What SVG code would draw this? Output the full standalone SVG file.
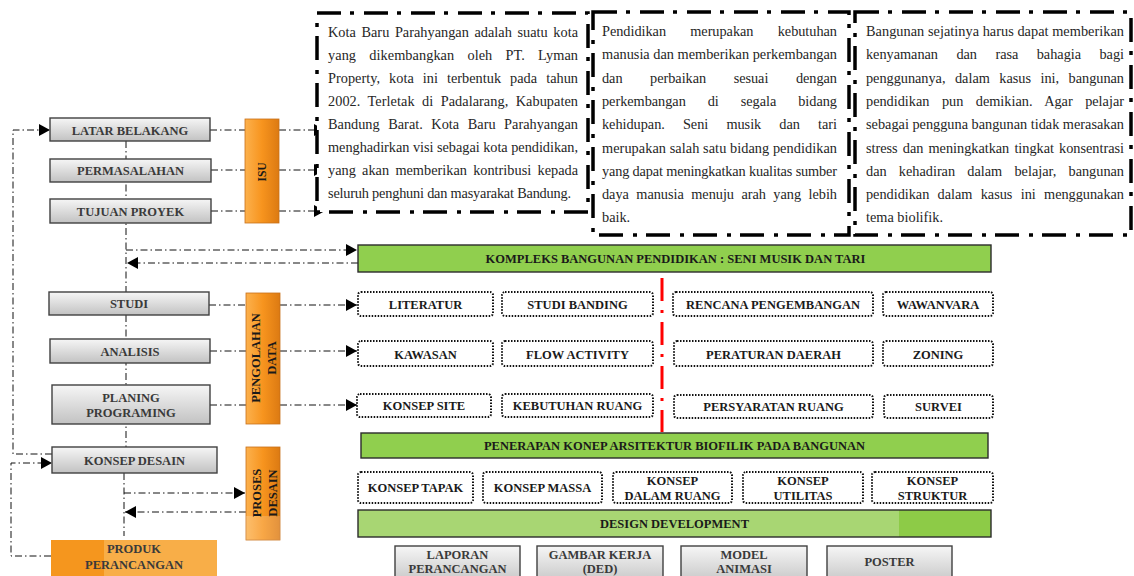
<svg xmlns="http://www.w3.org/2000/svg" width="1134" height="576" viewBox="0 0 1134 576">
<defs>
<style>
.lbl{font-family:"Liberation Serif","Times New Roman",serif;font-weight:bold;font-size:12.5px;fill:#1a1a1a;text-anchor:middle}
.lblg{font-family:"Liberation Serif","Times New Roman",serif;font-weight:bold;font-size:12.5px;fill:#3a3a3a;text-anchor:middle}
.para{font-family:"Liberation Serif","Times New Roman",serif;font-size:14.3px;fill:#262626}
.conn{fill:none;stroke:#111;stroke-width:1;stroke-dasharray:7 3 1.5 3}
.dot{fill:#fff;stroke:#111;stroke-width:2;stroke-dasharray:1.5 1.5}
.frame{fill:#fff;stroke:#000;stroke-width:3.5;stroke-dasharray:24 9 4 10}
.gray{fill:url(#gGray);stroke:#404040;stroke-width:1.4}
.orange{fill:url(#gOrange);stroke:#c8701a;stroke-width:0.8}
.green{fill:#90cf4e;stroke:#2b2b2b;stroke-width:1.4}
</style>
<linearGradient id="gGray" x1="0" y1="0" x2="0" y2="1"><stop offset="0" stop-color="#f6f6f6"/><stop offset="1" stop-color="#c2c2c2"/></linearGradient>
<linearGradient id="gOrange" x1="0" y1="0" x2="1" y2="0"><stop offset="0" stop-color="#fcb14d"/><stop offset="0.5" stop-color="#f7941e"/><stop offset="1" stop-color="#dc7a12"/></linearGradient>
<linearGradient id="gDev" x1="0" y1="0" x2="1" y2="0"><stop offset="0" stop-color="#a8d673"/><stop offset="0.855" stop-color="#a8d673"/><stop offset="0.855" stop-color="#8dcb47"/><stop offset="1" stop-color="#8dcb47"/></linearGradient>
<linearGradient id="gProd" x1="0" y1="0" x2="1" y2="0"><stop offset="0" stop-color="#f5961e"/><stop offset="0.32" stop-color="#f5961e"/><stop offset="0.32" stop-color="#f8ae48"/><stop offset="1" stop-color="#f8ae48"/></linearGradient>
<marker id="ah" markerWidth="11" markerHeight="12" refX="11" refY="6" orient="auto" markerUnits="userSpaceOnUse"><path d="M0,0 L11,6 L0,12 z" fill="#000"/></marker>
</defs>
<rect width="1134" height="576" fill="#fff"/>

<g id="connectors">
<path class="conn" d="M52,454 H13 V130 H50" marker-end="url(#ah)"/>
<path class="conn" d="M51,556 H11 V463 H52" marker-end="url(#ah)"/>
<path class="conn" d="M126,141 V447"/>
<path class="conn" d="M124,473 V536"/>
<path class="conn" d="M126,250 H357" marker-end="url(#ah)"/>
<path class="conn" d="M358,263 H127" marker-end="url(#ah)"/>
<path class="conn" d="M210,130 H245"/>
<path class="conn" d="M279,130 H325" marker-end="url(#ah)"/>
<path class="conn" d="M211,170 H245"/>
<path class="conn" d="M279,170 H325" marker-end="url(#ah)"/>
<path class="conn" d="M211,211 H245"/>
<path class="conn" d="M279,211 H325" marker-end="url(#ah)"/>
<path class="conn" d="M209,305 H246"/>
<path class="conn" d="M280,305 H357" marker-end="url(#ah)"/>
<path class="conn" d="M210,351 H246"/>
<path class="conn" d="M280,351 H357" marker-end="url(#ah)"/>
<path class="conn" d="M210,405 H246"/>
<path class="conn" d="M280,405 H357" marker-end="url(#ah)"/>
<path class="conn" d="M124,493 H245" marker-end="url(#ah)"/>
<path class="conn" d="M246,512 H125" marker-end="url(#ah)"/>
<path d="M662,278 V432" fill="none" stroke="#ff0000" stroke-width="3" stroke-dasharray="23 9 3 9"/>
</g>

<g id="text-kota">
<rect class="frame" x="317" y="13" width="271" height="199"/>
<text class="para" x="328" y="36.5" textLength="250" lengthAdjust="spacing" style="word-spacing:2px">Kota Baru Parahyangan adalah suatu kota</text>
<text class="para" x="328" y="59.6" textLength="250" lengthAdjust="spacing" style="word-spacing:9.5px">yang dikembangkan oleh PT. Lyman</text>
<text class="para" x="328" y="82.7" textLength="250" lengthAdjust="spacing" style="word-spacing:5.4px">Property, kota ini terbentuk pada tahun</text>
<text class="para" x="328" y="105.8" textLength="250" lengthAdjust="spacing" style="word-spacing:3.8px">2002. Terletak di Padalarang, Kabupaten</text>
<text class="para" x="328" y="128.9" textLength="250" lengthAdjust="spacing" style="word-spacing:5px">Bandung Barat. Kota Baru Parahyangan</text>
<text class="para" x="328" y="152" textLength="250" lengthAdjust="spacing">menghadirkan visi sebagai kota pendidikan,</text>
<text class="para" x="328" y="175.1" textLength="250" lengthAdjust="spacing" style="word-spacing:2.7px">yang akan memberikan kontribusi kepada</text>
<text class="para" x="328" y="198.2" textLength="243" lengthAdjust="spacing">seluruh penghuni dan masyarakat Bandung.</text>
</g>

<g id="text-pendidikan">
<rect class="frame" x="593" y="12" width="256" height="223"/>
<text class="para" x="602" y="36" textLength="235" lengthAdjust="spacing" style="word-spacing:20.7px">Pendidikan merupakan kebutuhan</text>
<text class="para" x="602" y="59.3" textLength="235" lengthAdjust="spacing">manusia dan memberikan perkembangan</text>
<text class="para" x="602" y="82.6" textLength="235" lengthAdjust="spacing" style="word-spacing:24px">dan perbaikan sesuai dengan</text>
<text class="para" x="602" y="105.9" textLength="235" lengthAdjust="spacing" style="word-spacing:18.4px">perkembangan di segala bidang</text>
<text class="para" x="602" y="129.2" textLength="235" lengthAdjust="spacing" style="word-spacing:14.6px">kehidupan. Seni musik dan tari</text>
<text class="para" x="602" y="152.5" textLength="235" lengthAdjust="spacing">merupakan salah satu bidang pendidikan</text>
<text class="para" x="602" y="175.8" textLength="235" lengthAdjust="spacing">yang dapat meningkatkan kualitas sumber</text>
<text class="para" x="602" y="199.1" textLength="235" lengthAdjust="spacing" style="word-spacing:3.9px">daya manusia menuju arah yang lebih</text>
<text class="para" x="602" y="222.4">baik.</text>
</g>

<g id="text-bangunan">
<rect class="frame" x="855" y="12" width="276" height="223"/>
<text class="para" x="866" y="36" textLength="258" lengthAdjust="spacing">Bangunan sejatinya harus dapat memberikan</text>
<text class="para" x="866" y="59.3" textLength="258" lengthAdjust="spacing" style="word-spacing:14.9px">kenyamanan dan rasa bahagia bagi</text>
<text class="para" x="866" y="82.6" textLength="258" lengthAdjust="spacing" style="word-spacing:6px">penggunanya, dalam kasus ini, bangunan</text>
<text class="para" x="866" y="105.9" textLength="258" lengthAdjust="spacing" style="word-spacing:8.9px">pendidikan pun demikian. Agar pelajar</text>
<text class="para" x="866" y="129.2" textLength="258" lengthAdjust="spacing">sebagai pengguna bangunan tidak merasakan</text>
<text class="para" x="866" y="152.5" textLength="258" lengthAdjust="spacing" style="word-spacing:1.6px">stress dan meningkatkan tingkat konsentrasi</text>
<text class="para" x="866" y="175.8" textLength="258" lengthAdjust="spacing" style="word-spacing:8.7px">dan kehadiran dalam belajar, bangunan</text>
<text class="para" x="866" y="199.1" textLength="258" lengthAdjust="spacing" style="word-spacing:4.8px">pendidikan dalam kasus ini menggunakan</text>
<text class="para" x="866" y="222.4">tema biolifik.</text>
</g>

<g id="latar-belakang"><rect class="gray" x="50" y="118" width="160" height="23"/><text class="lblg" x="130" y="134.5">LATAR BELAKANG</text></g>
<g id="permasalahan"><rect class="gray" x="50" y="159" width="161" height="23"/><text class="lblg" x="130.5" y="175">PERMASALAHAN</text></g>
<g id="tujuan-proyek"><rect class="gray" x="50" y="199" width="161" height="24"/><text class="lblg" x="130.5" y="215.5">TUJUAN PROYEK</text></g>
<g id="studi"><rect class="gray" x="49" y="292" width="160" height="23"/><text class="lblg" x="129" y="308">STUDI</text></g>
<g id="analisis"><rect class="gray" x="50" y="339" width="160" height="24"/><text class="lblg" x="130" y="355.5">ANALISIS</text></g>
<g id="planing-programing"><rect class="gray" x="52" y="385" width="158" height="39"/><text class="lblg" x="131" y="401.5">PLANING</text><text class="lblg" x="131" y="417">PROGRAMING</text></g>
<g id="konsep-desain"><rect class="gray" x="52" y="447" width="165" height="26"/><text class="lblg" x="134.5" y="465">KONSEP DESAIN</text></g>
<g id="produk-perancangan"><rect x="51" y="540" width="166" height="40" fill="url(#gProd)"/><text class="lblg" x="134" y="552.5">PRODUK</text><text class="lblg" x="134" y="568.5">PERANCANGAN</text></g>

<g id="isu"><rect class="orange" x="245" y="119" width="34" height="104"/><text class="lbl" transform="translate(262,172) rotate(-90)" x="0" y="4.3" style="font-size:11.5px">ISU</text></g>
<g id="pengolahan-data"><rect class="orange" x="246" y="293" width="34" height="131"/><g transform="translate(264,358) rotate(-90)"><text class="lbl" x="0" y="-3.7">PENGOLAHAN</text><text class="lbl" x="0" y="12.3">DATA</text></g></g>
<g id="proses-desain"><rect class="orange" x="246" y="447" width="34" height="93"/><rect x="246" y="516" width="34" height="24" fill="#fff" opacity="0.18"/><g transform="translate(264,493) rotate(-90)"><text class="lbl" x="0" y="-3">PROSES</text><text class="lbl" x="0" y="12.5">DESAIN</text></g></g>

<g id="kompleks"><rect class="green" x="358" y="245" width="633" height="27"/><text class="lbl" x="675.5" y="263">KOMPLEKS BANGUNAN PENDIDIKAN : SENI MUSIK DAN TARI</text></g>

<g id="literatur"><rect class="dot" x="358" y="292" width="135" height="24" rx="3"/><text class="lbl" x="425.5" y="308.5">LITERATUR</text></g>
<g id="studi-banding"><rect class="dot" x="502" y="292" width="151" height="24" rx="3"/><text class="lbl" x="577.5" y="308.5">STUDI BANDING</text></g>
<g id="rencana-pengembangan"><rect class="dot" x="673" y="292" width="200" height="24" rx="3"/><text class="lbl" x="773" y="308.5">RENCANA PENGEMBANGAN</text></g>
<g id="wawanvara"><rect class="dot" x="883" y="292" width="110" height="24" rx="3"/><text class="lbl" x="938" y="308.5">WAWANVARA</text></g>

<g id="kawasan"><rect class="dot" x="358" y="341" width="135" height="25" rx="3"/><text class="lbl" x="425.5" y="358.5">KAWASAN</text></g>
<g id="flow-activity"><rect class="dot" x="502" y="341" width="151" height="25" rx="3"/><text class="lbl" x="577.5" y="358.5">FLOW ACTIVITY</text></g>
<g id="peraturan-daerah"><rect class="dot" x="674" y="341" width="199" height="25" rx="3"/><text class="lbl" x="773.5" y="358.5">PERATURAN DAERAH</text></g>
<g id="zoning"><rect class="dot" x="883" y="341" width="110" height="25" rx="3"/><text class="lbl" x="938" y="358.5">ZONING</text></g>

<g id="konsep-site"><rect class="dot" x="357" y="394" width="134" height="23" rx="3"/><text class="lbl" x="424" y="410">KONSEP SITE</text></g>
<g id="kebutuhan-ruang"><rect class="dot" x="502" y="394" width="151" height="23" rx="3"/><text class="lbl" x="577.5" y="410">KEBUTUHAN RUANG</text></g>
<g id="persyaratan-ruang"><rect class="dot" x="674" y="395" width="199" height="23" rx="3"/><text class="lbl" x="773.5" y="411">PERSYARATAN RUANG</text></g>
<g id="survei"><rect class="dot" x="884" y="395" width="109" height="23" rx="3"/><text class="lbl" x="938.5" y="411">SURVEI</text></g>

<g id="penerapan"><rect class="green" x="361" y="433" width="627" height="25"/><text class="lbl" x="674.5" y="450">PENERAPAN KONEP ARSITEKTUR BIOFILIK PADA BANGUNAN</text></g>

<g id="konsep-tapak"><rect class="dot" x="358" y="472" width="115" height="31" rx="3"/><text class="lbl" x="415.5" y="491.5">KONSEP TAPAK</text></g>
<g id="konsep-massa"><rect class="dot" x="483" y="472" width="119" height="31" rx="3"/><text class="lbl" x="542.5" y="491.5">KONSEP MASSA</text></g>
<g id="konsep-dalam-ruang"><rect class="dot" x="613" y="472" width="119" height="31" rx="3"/><text class="lbl" x="672.5" y="484.5">KONSEP</text><text class="lbl" x="672.5" y="499.5">DALAM RUANG</text></g>
<g id="konsep-utilitas"><rect class="dot" x="743" y="472" width="120" height="31" rx="3"/><text class="lbl" x="803" y="484.5">KONSEP</text><text class="lbl" x="803" y="499.5">UTILITAS</text></g>
<g id="konsep-struktur"><rect class="dot" x="872" y="472" width="121" height="31" rx="3"/><text class="lbl" x="932.5" y="484.5">KONSEP</text><text class="lbl" x="932.5" y="499.5">STRUKTUR</text></g>

<g id="design-development"><rect x="358" y="510" width="633" height="27" fill="url(#gDev)" stroke="#2b2b2b" stroke-width="1.4"/><text class="lbl" x="674.5" y="527.5">DESIGN DEVELOPMENT</text></g>

<g id="laporan-perancangan"><rect class="gray" x="395" y="546" width="125" height="40"/><text class="lblg" x="457.5" y="559">LAPORAN</text><text class="lblg" x="457.5" y="573">PERANCANGAN</text></g>
<g id="gambar-kerja"><rect class="gray" x="537" y="546" width="126" height="40"/><text class="lblg" x="600" y="559">GAMBAR KERJA</text><text class="lblg" x="600" y="573">(DED)</text></g>
<g id="model-animasi"><rect class="gray" x="681" y="546" width="126" height="40"/><text class="lblg" x="744" y="559">MODEL</text><text class="lblg" x="744" y="573">ANIMASI</text></g>
<g id="poster"><rect class="gray" x="827" y="546" width="125" height="40"/><text class="lblg" x="889.5" y="566">POSTER</text></g>
</svg>
